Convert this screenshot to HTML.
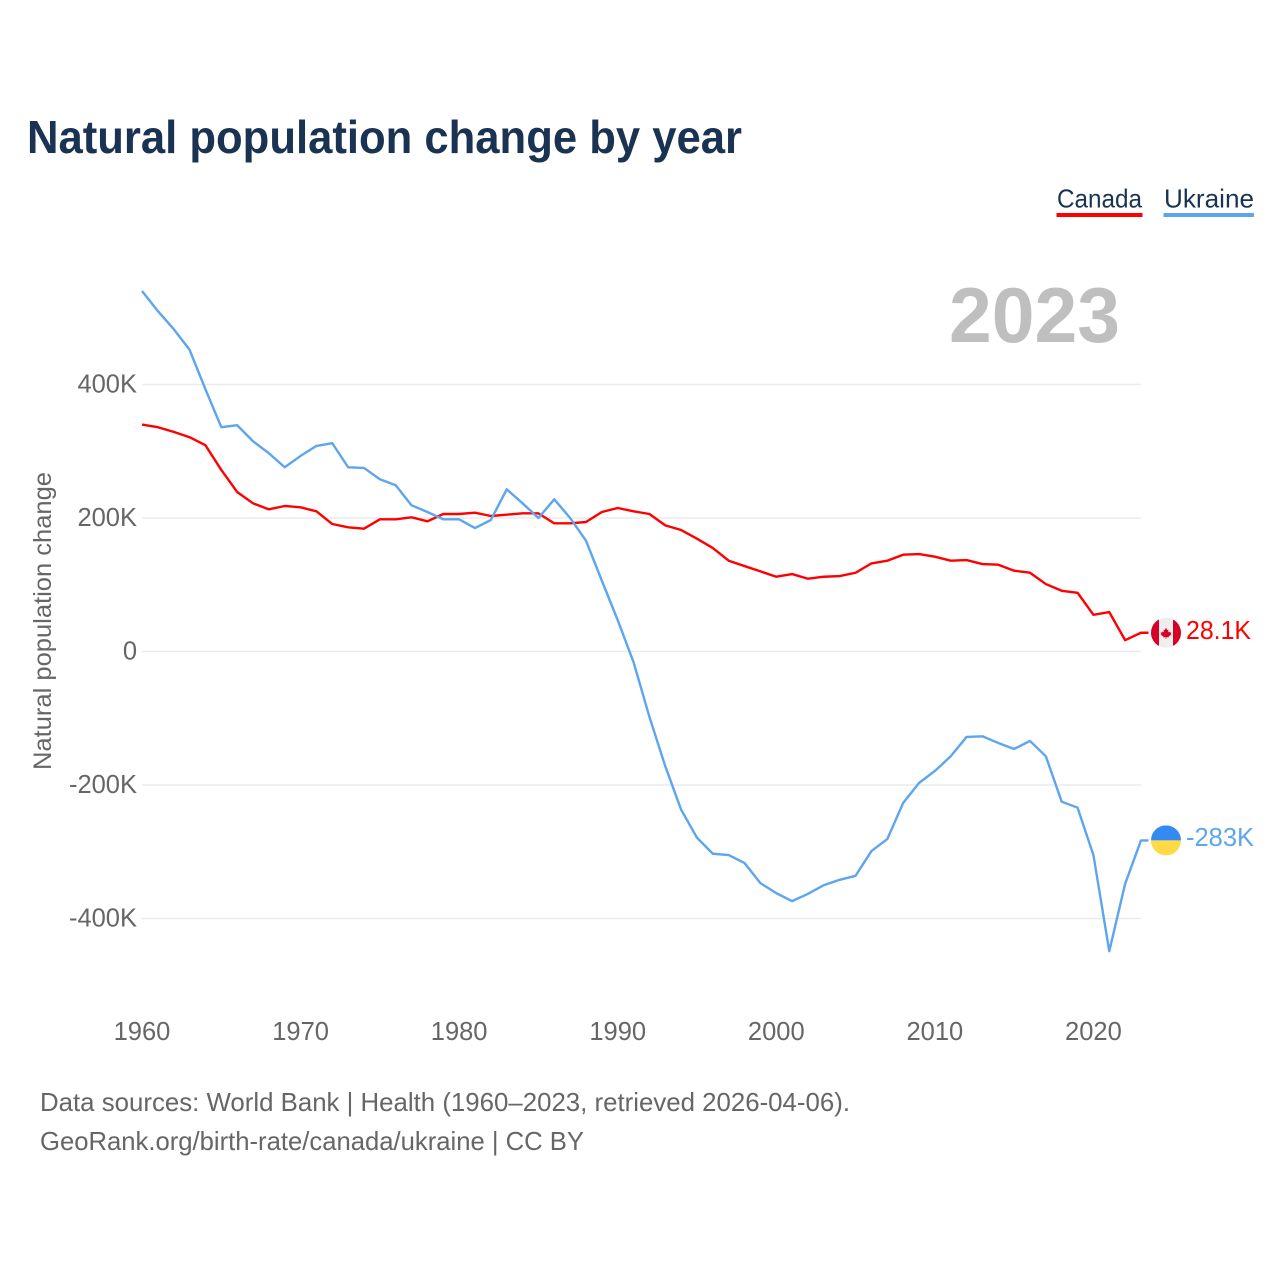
<!DOCTYPE html>
<html lang="en">
<head>
<meta charset="utf-8">
<title>Natural population change by year</title>
<style>
html,body{margin:0;padding:0;background:#fff;width:1280px;height:1280px;overflow:hidden}
svg{display:block}
text{font-family:"Liberation Sans",sans-serif}
</style>
</head>
<body>
<svg id="chart" xmlns="http://www.w3.org/2000/svg" width="1280" height="1280" viewBox="0 0 1280 1280">
  <rect width="1280" height="1280" fill="#fff"/>
  <text x="27" y="153" font-size="46" font-weight="700" fill="#1a3353" textLength="715" lengthAdjust="spacingAndGlyphs">Natural population change by year</text>

  <g>
    <g>
      <text x="1057" y="207.5" font-size="26" fill="#1a3353" textLength="85" lengthAdjust="spacingAndGlyphs">Canada</text>
      <rect x="1056.5" y="213" width="86" height="4" fill="#ff0000"/>
    </g>
    <g>
      <text x="1164" y="207.5" font-size="26" fill="#1a3353" textLength="90" lengthAdjust="spacingAndGlyphs">Ukraine</text>
      <rect x="1163.5" y="213" width="90.5" height="4" fill="#5da5ee"/>
    </g>
  </g>

  <text x="949" y="342" font-size="78" font-weight="700" fill="#bfbfbf" textLength="171" lengthAdjust="spacingAndGlyphs">2023</text>
  <text transform="translate(51 770) rotate(-90)" font-size="25" fill="#666" textLength="298" lengthAdjust="spacingAndGlyphs">Natural population change</text>

  <g id="grid"></g>
  <g id="yticks"></g>
  <g id="xticks"></g>
  <g id="series"></g>

  <g id="flag-canada">
    <clipPath id="clip-ca"><circle cx="0" cy="0" r="15"/></clipPath>
    <g clip-path="url(#clip-ca)">
      <rect x="-15" y="-15" width="30" height="30" fill="#eeeeee"/>
      <rect x="-15" y="-15" width="8" height="30" fill="#d80027"/>
      <rect x="7" y="-15" width="8" height="30" fill="#d80027"/>
      <path fill="#d80027" d="M0-5 1.3-2.6 2.5-3.1 2-.4 3.4-1.4 3.9-.2 5.4-.4 4.7 1.2 5.4 1.7 2.6 3.8 2.8 4.6 .4 4.3V6H-.4V4.3L-2.8 4.6-2.6 3.8-5.4 1.7-4.7 1.2-5.4-.4-3.9-.2-3.4-1.4-2-.4-2.5-3.1-1.3-2.6Z"/>
    </g>
  </g>
  <g id="flag-ukraine">
    <clipPath id="clip-ua"><circle cx="0" cy="0" r="15"/></clipPath>
    <g clip-path="url(#clip-ua)">
      <rect x="-15" y="-15" width="30" height="15" fill="#338af3"/>
      <rect x="-15" y="0" width="30" height="15" fill="#ffda44"/>
    </g>
  </g>

  <text x="1186" y="639" font-size="25.5" fill="#ff0000" textLength="65" lengthAdjust="spacingAndGlyphs">28.1K</text>
  <text x="1186" y="846" font-size="25.5" fill="#5da5ee" textLength="68" lengthAdjust="spacingAndGlyphs">-283K</text>

  <text x="40" y="1111" font-size="26" fill="#666" textLength="810" lengthAdjust="spacingAndGlyphs">Data sources: World Bank | Health (1960–2023, retrieved 2026-04-06).</text>
  <text x="40" y="1150" font-size="26" fill="#666" textLength="544" lengthAdjust="spacingAndGlyphs">GeoRank.org/birth-rate/canada/ukraine | CC BY</text>
</svg>
<script>
const firstYear = 1960;
const xTicks = [1960, 1970, 1980, 1990, 2000, 2010, 2020];
const yTicks = [400, 200, 0, -200, -400];
const yTickLabels = ['400K', '200K', '0', '-200K', '-400K'];
const canada = [340,336,329,321,309,272,239,222,213,218,216,210,191,186,184,198,198,201,195,206,206,208,203,205,207,207,192,192,194,209,215,210,206,189,182,169,155,136,128,120,112,116,109,112,113,118,132,136,145,146,142,136,137,131,130,121,118,101,91,88,55,59,17,28.1];
const ukraine = [540,510,483,452,393,336,339,315,297,276,293,308,312,276,275,258,249,219,209,198,198,185,197,243,222,200,228,200,166,106,47,-16,-98,-172,-237,-279,-303,-305,-317,-347,-362,-374,-363,-350,-342,-336,-299,-281,-227,-197,-179,-157,-128,-127,-137,-146,-134,-157,-225,-234,-305,-449,-348,-283];

const NS = 'http://www.w3.org/2000/svg';
const X0 = 142, XSTEP = 999 / 63, Y0 = 651.5, YK = 0.6675;
function xScale(year) { return X0 + (year - firstYear) * XSTEP; }
function yScale(v) { return Y0 - v * YK; }
function make(tag, attrs, parent) {
  const el = document.createElementNS(NS, tag);
  for (const k in attrs) el.setAttribute(k, attrs[k]);
  parent.appendChild(el);
  return el;
}
const grid = document.getElementById('grid');
const yG = document.getElementById('yticks');
const xG = document.getElementById('xticks');
const seriesG = document.getElementById('series');

yTicks.forEach(function (v, i) {
  const line = make('line', { x1: X0, x2: xScale(2023), y1: yScale(v), y2: yScale(v), stroke: '#ebebeb', 'stroke-width': 1.5 }, grid);
  
  
  const t = make('text', { x: 137, y: yScale(v) + 8, 'text-anchor': 'end', 'font-size': 25.5, fill: '#666' }, yG);
  
  
  t.textContent = yTickLabels[i];
});
xTicks.forEach(function (yr) {
  const t = make('text', { x: xScale(yr), y: 1040, 'text-anchor': 'middle', 'font-size': 25.5, fill: '#666' }, xG);
  
  
  t.textContent = yr;
});
function drawSeries(values, color, name, flagId) {
  const pts = values.map(function (v, i) { return xScale(firstYear + i).toFixed(2) + ',' + yScale(v).toFixed(2); });
  const lastX = xScale(firstYear + values.length - 1);
  const lastY = yScale(values[values.length - 1]);
  pts.push((lastX + 7.5).toFixed(2) + ',' + lastY.toFixed(2));
  const p = make('polyline', { points: pts.join(' '), fill: 'none', stroke: color, 'stroke-width': 2.4, 'stroke-linejoin': 'round' }, seriesG);
  
  
  document.getElementById(flagId).setAttribute('transform', 'translate(' + (lastX + 25) + ' ' + lastY + ')');
}
drawSeries(canada, '#ff0000', 'canada-line', 'flag-canada');
drawSeries(ukraine, '#5da5ee', 'ukraine-line', 'flag-ukraine');
</script>
</body>
</html>
